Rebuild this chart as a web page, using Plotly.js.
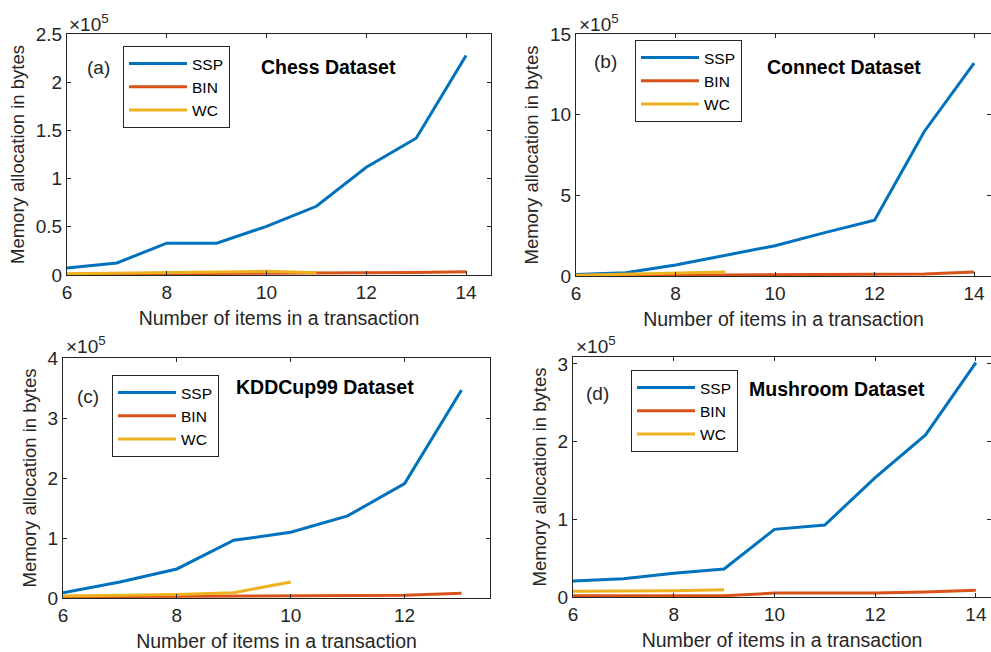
<!DOCTYPE html>
<html>
<head>
<meta charset="utf-8">
<script src="https://cdn.plot.ly/plotly-3.0.1.min.js"></script>
<style>html,body{margin:0;padding:0;background:#fff;overflow:hidden}#chart{width:991px;height:652px}</style>
</head>
<body>
<div id="chart"></div>
<script>
// ---- data ----
const xItems = [6, 7, 8, 9, 10, 11, 12, 13, 14];
const xItemsKdd = [6, 7, 8, 9, 10, 11, 12, 13];

const chessSSP = [7300, 12500, 33000, 33000, 50500, 71300, 111800, 141900, 227700];
const chessBIN = [800, 1000, 1200, 1400, 1600, 1900, 2300, 2700, 3400];
const chessWC  = [1400, 2200, 3000, 3200, 3800, 2400];           // items 6..11

const connectSSP = [10000, 20000, 68000, 128000, 188000, 269000, 346000, 896000, 1320000];
const connectBIN = [2000, 3000, 4000, 5000, 7000, 9000, 10000, 12000, 25000];
const connectWC  = [4000, 12000, 17000, 25000];                   // items 6..9

const kddSSP = [8900, 26700, 48400, 96200, 109600, 136900, 190800, 346600];
const kddBIN = [2000, 2500, 3000, 3000, 3500, 4000, 4500, 8000];
const kddWC  = [3300, 4500, 6000, 8900, 26700];                   // items 6..10

const mushSSP = [20600, 23600, 30500, 36000, 87100, 92700, 153600, 208600, 301700];
const mushBIN = [1700, 1700, 1700, 1700, 5000, 5000, 5000, 6400, 8600];
const mushWC  = [7300, 7300, 8000, 9400];                         // items 6..9

const seriesNames = ['SSP', 'BIN', 'WC'];
const panelLabels = ['(a)', '(b)', '(c)', '(d)'];
const panelTitles = ['Chess Dataset', 'Connect Dataset', 'KDDCup99 Dataset', 'Mushroom Dataset'];
const xTitle = 'Number of items in a transaction';
const yTitle = 'Memory allocation in bytes';

// ---- styling ----
const colors = ['#0072BD', '#D95319', '#EDB120'];
const FONT = 'Liberation Sans, Arial, sans-serif';
const AX = '#262626';

const panels = [
  {ssp: chessSSP, bin: chessBIN, wc: chessWC, x: xItems},
  {ssp: connectSSP, bin: connectBIN, wc: connectWC, x: xItems},
  {ssp: kddSSP, bin: kddBIN, wc: kddWC, x: xItemsKdd},
  {ssp: mushSSP, bin: mushBIN, wc: mushWC, x: xItems}
];

const traces = [];
panels.forEach((p, i) => {
  const ax = i === 0 ? '' : String(i + 1);
  const leg = i === 0 ? 'legend' : 'legend' + (i + 1);
  const ys = [p.ssp, p.bin, p.wc];
  ys.forEach((y, k) => {
    traces.push({
      type: 'scatter', mode: 'lines',
      x: p.x.slice(0, y.length), y: y,
      name: seriesNames[k],
      xaxis: 'x' + ax, yaxis: 'y' + ax,
      legend: leg,
      line: {color: colors[k], width: 3},
      hoverinfo: 'x+y+name'
    });
  });
});

function xaxis(domain, range, anchor) {
  return {
    domain: domain, range: range, anchor: anchor,
    tickmode: 'array', tickvals: [6, 8, 10, 12, 14], ticktext: ['6', '8', '10', '12', '14'],
    ticks: 'inside', ticklen: 4, tickcolor: AX, tickwidth: 1,
    showline: true, linecolor: AX, linewidth: 1, mirror: 'ticks',
    showgrid: false, zeroline: false,
    tickfont: {family: FONT, size: 19, color: AX},
    title: {text: xTitle, font: {family: FONT, size: 19.5, color: AX}, standoff: 9},
    automargin: false
  };
}
function yaxis(domain, range, anchor, vals, txt) {
  return {
    domain: domain, range: range, anchor: anchor,
    tickmode: 'array', tickvals: vals, ticktext: txt,
    ticks: 'inside', ticklen: 4, tickcolor: AX, tickwidth: 1,
    showline: true, linecolor: AX, linewidth: 1, mirror: 'ticks',
    showgrid: false, zeroline: false,
    tickfont: {family: FONT, size: 19, color: AX},
    title: {text: yTitle, font: {family: FONT, size: 18.5, color: AX}, standoff: 6},
    automargin: false
  };
}

function legendAt(x, y) {
  return {
    x: x, y: y, xanchor: 'left', yanchor: 'top',
    bordercolor: AX, borderwidth: 1, bgcolor: '#fff',
    font: {family: FONT, size: 15.5, color: '#000'},
    itemwidth: 58, tracegroupgap: 0, traceorder: 'normal'
  };
}

const W = 991, H = 652;
const px = v => v / W, py = v => 1 - v / H;

const layout = {
  width: W, height: H,
  margin: {l: 0, r: 0, t: 0, b: 0},
  paper_bgcolor: '#fff', plot_bgcolor: '#fff',
  showlegend: true,
  xaxis:  xaxis([px(67), px(491)], [6, 14.5], 'y'),
  yaxis:  yaxis([py(275), py(34)], [0, 250000], 'x',
                [0, 50000, 100000, 150000, 200000, 250000], ['0', '0.5', '1', '1.5', '2', '2.5']),
  xaxis2: xaxis([px(576), 1], [6, 14.34], 'y2'),
  yaxis2: yaxis([py(276), py(34)], [0, 1500000], 'x2',
                [0, 500000, 1000000, 1500000], ['0', '5', '10', '15']),
  xaxis3: xaxis([px(63), px(490)], [6, 13.5], 'y3'),
  yaxis3: yaxis([py(598), py(358)], [0, 400000], 'x3',
                [0, 100000, 200000, 300000, 400000], ['0', '1', '2', '3', '4']),
  xaxis4: xaxis([px(573), 1], [6, 14.3], 'y4'),
  yaxis4: yaxis([py(597), py(357)], [0, 309000], 'x4',
                [0, 100000, 200000, 300000], ['0', '1', '2', '3']),
  legend:  legendAt(px(123), py(46)),
  legend2: legendAt(px(635), py(40)),
  legend3: legendAt(px(112), py(375)),
  legend4: legendAt(px(631), py(370)),
  annotations: []
};

const labelPos = [[98, 68], [605, 61], [88, 396], [597, 393]];
const titlePos = [[328, 67], [844, 67], [325, 387], [837, 389]];
const expPos = [[67, 23], [577, 23], [64, 345], [574, 345]];
for (let i = 0; i < 4; i++) {
  layout.annotations.push({
    xref: 'paper', yref: 'paper', x: px(labelPos[i][0]), y: py(labelPos[i][1]),
    xanchor: 'center', yanchor: 'middle', showarrow: false,
    text: panelLabels[i], font: {family: FONT, size: 19, color: AX}
  });
  layout.annotations.push({
    xref: 'paper', yref: 'paper', x: px(titlePos[i][0]), y: py(titlePos[i][1]),
    xanchor: 'center', yanchor: 'middle', showarrow: false,
    text: '<b>' + panelTitles[i] + '</b>', font: {family: FONT, size: 19.5, color: '#000'}
  });
  layout.annotations.push({
    xref: 'paper', yref: 'paper', x: px(expPos[i][0]), y: py(expPos[i][1]),
    xanchor: 'left', yanchor: 'middle', showarrow: false,
    text: '×10<sup>5</sup>', font: {family: FONT, size: 19, color: AX}
  });
}

Plotly.newPlot('chart', traces, layout, {displayModeBar: false, staticPlot: true});
</script>
</body>
</html>
